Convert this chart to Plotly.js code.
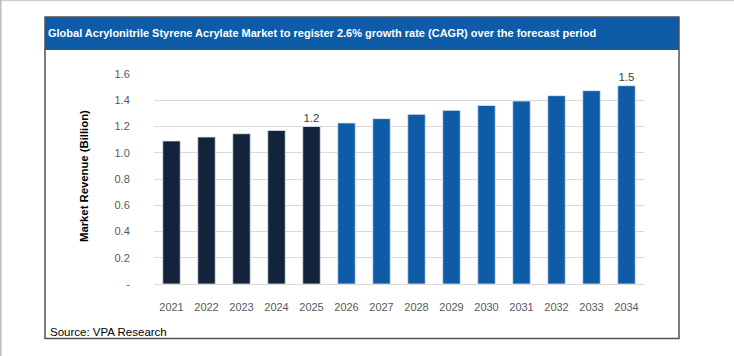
<!DOCTYPE html>
<html>
<head>
<meta charset="utf-8">
<script src="https://cdn.plot.ly/plotly-3.0.1.min.js"></script>
<style>
html,body{margin:0;padding:0;background:#fff;}
#chart{width:734px;height:356px;}
</style>
</head>
<body>
<div id="chart"></div>
<script>
// ---- data ----
const years = ['2021','2022','2023','2024','2025','2026','2027','2028','2029','2030','2031','2032','2033','2034'];
const revenue = [1.09, 1.12, 1.145, 1.17, 1.20, 1.227, 1.26, 1.293, 1.323, 1.36, 1.394, 1.435, 1.473, 1.511];
const barLabels = ['', '', '', '', '1.2', '', '', '', '', '', '', '', '', '1.5'];
const lastActualYear = '2025';
const yTickVals = [0, 0.2, 0.4, 0.6, 0.8, 1.0, 1.2, 1.4, 1.6];
const yTickText = ['-', '0.2', '0.4', '0.6', '0.8', '1.0', '1.2', '1.4', '1.6'];
const chartTitle = 'Global Acrylonitrile Styrene Acrylate Market to register 2.6% growth rate (CAGR) over the forecast period';
const yTitle = 'Market Revenue (Billion)';
const sourceText = 'Source: VPA Research';

// ---- styling ----
const NAVY = '#13233C';
const BLUE = '#0E5BA8';
const FONT = '"Liberation Sans", Arial, sans-serif';
const W = 734, H = 356;
const PL = 154, PR = 644, PT = 74, PB = 284; // plot area in px
const px = x => (x - PL) / (PR - PL);
const py = y => (PB - y) / (PB - PT);

const colors = years.map(y => (y <= lastActualYear ? NAVY : BLUE));

const trace = {
  type: 'bar',
  x: years,
  y: revenue,
  text: barLabels,
  textposition: 'outside',
  cliponaxis: false,
  textfont: {family: FONT, size: 11.5, color: '#404040'},
  marker: {color: colors, line: {color: '#dfe7f1', width: 0.8}},
  hoverinfo: 'x+y'
};

const layout = {
  width: W, height: H,
  margin: {l: PL, r: W - PR, t: PT, b: H - PB, pad: 0},
  paper_bgcolor: '#ffffff',
  plot_bgcolor: 'rgba(0,0,0,0)',
  showlegend: false,
  bargap: 0.5,
  font: {family: FONT, color: '#595959'},
  title: {
    text: chartTitle,
    font: {family: FONT, size: 11, color: '#ffffff', weight: 'bold'},
    xref: 'container', yref: 'container',
    x: 48 / W, xanchor: 'left',
    y: 1 - 33.5 / H, yanchor: 'middle'
  },
  xaxis: {
    type: 'category',
    showgrid: false,
    zeroline: false,
    showline: false,
    ticks: 'outside', ticklen: 13, tickcolor: 'rgba(0,0,0,0)',
    tickfont: {family: FONT, size: 11, color: '#595959'},
    fixedrange: true
  },
  yaxis: {
    range: [0, 1.6],
    tickvals: yTickVals,
    ticktext: yTickText,
    showgrid: true,
    gridcolor: '#d9d9d9',
    gridwidth: 1,
    zeroline: true,
    zerolinecolor: '#d9d9d9',
    zerolinewidth: 1,
    showline: false,
    ticks: 'outside', ticklen: 21, tickcolor: 'rgba(0,0,0,0)',
    tickfont: {family: FONT, size: 11, color: '#595959'},
    fixedrange: true
  },
  shapes: [
    // outer frame lines of the page
    {type: 'line', xref: 'paper', yref: 'paper', x0: px(0), x1: px(W), y0: py(0.5), y1: py(0.5),
     line: {color: '#d0d0d0', width: 1.5}, layer: 'below'},
    {type: 'line', xref: 'paper', yref: 'paper', x0: px(0.8), x1: px(0.8), y0: py(0), y1: py(H),
     line: {color: '#c0c0c0', width: 1.6}, layer: 'below'},
    // title bar
    {type: 'rect', xref: 'paper', yref: 'paper', x0: px(45), x1: px(679), y0: py(17), y1: py(50),
     fillcolor: BLUE, line: {width: 0}, layer: 'below'},
    // chart box
    {type: 'rect', xref: 'paper', yref: 'paper', x0: px(45), x1: px(679), y0: py(17), y1: py(338.5),
     fillcolor: 'rgba(0,0,0,0)', line: {color: '#505050', width: 1.5}, layer: 'above'}
  ],
  annotations: [
    {text: '<b>' + yTitle + '</b>', xref: 'paper', yref: 'paper', x: px(84), y: py(176),
     xanchor: 'center', yanchor: 'middle', textangle: -90, showarrow: false,
     font: {family: FONT, size: 11.3, color: '#000000'}},
    {text: sourceText, xref: 'paper', yref: 'paper', x: px(48), y: py(331.5),
     xanchor: 'left', yanchor: 'middle', showarrow: false,
     font: {family: FONT, size: 11.5, color: '#000000'}}
  ]
};

Plotly.newPlot('chart', [trace], layout, {displayModeBar: false, staticPlot: true});
</script>
</body>
</html>
